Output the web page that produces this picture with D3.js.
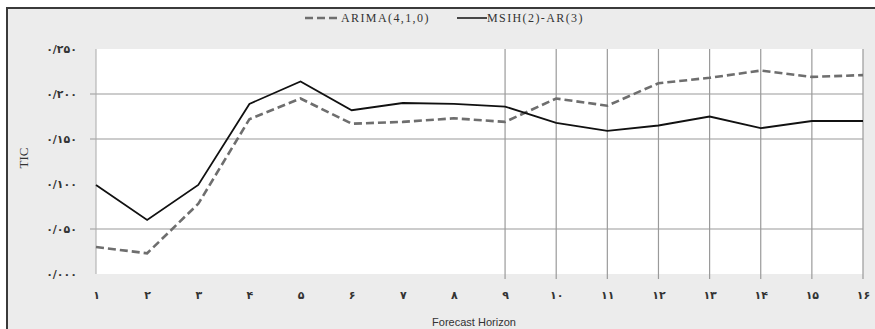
<!DOCTYPE html>
<html>
<head>
<meta charset="utf-8">
<script src="https://cdn.jsdelivr.net/npm/d3@7"></script>
<style>
body { margin: 0; background: #fff; }
svg { display: block; }
</style>
</head>
<body>
<svg class="chart"></svg>
<script>
var horizons = d3.range(1, 17);
var arima = [0.030, 0.023, 0.078, 0.172, 0.195, 0.167, 0.169, 0.173, 0.169, 0.195, 0.187, 0.212, 0.218, 0.226, 0.219, 0.221];
var msih = [0.099, 0.060, 0.099, 0.189, 0.214, 0.182, 0.190, 0.189, 0.186, 0.168, 0.159, 0.165, 0.175, 0.162, 0.170, 0.170];
var yTicks = [0, 0.05, 0.1, 0.15, 0.2, 0.25];
var yGrid = [0.05, 0.15, 0.2];
var xGrid = [9, 10, 11, 12, 13, 14, 15, 16];
var seriesNames = ["ARIMA(4,1,0)", "MSIH(2)-AR(3)"];

var margin = {top: 49, right: 12, bottom: 55, left: 96};
var W = 875, H = 329;
var width = W - margin.left - margin.right;
var height = H - margin.top - margin.bottom;

// persian digits for tick labels
function fa(s) {
	return s.replace(/[0-9]/g, d => "۰۱۲۳۴۵۶۷۸۹"[+d]);
}

var x = d3.scaleLinear().domain([1, 16]).range([0, width]);
var y = d3.scaleLinear().domain([0, 0.25]).range([height, 0]);

var svg = d3.select(".chart").attr("width", W).attr("height", H);

svg.append("rect")
	.attr("x", 7).attr("y", 8)
	.attr("width", W).attr("height", H)
	.attr("fill", "#ececec")
	.attr("stroke", "#3a3a3a")
	.attr("stroke-width", 2);

var chart = svg.append("g")
	.attr("transform", "translate(" + margin.left + "," + margin.top + ")");

chart.append("rect")
	.attr("width", width).attr("height", height)
	.attr("fill", "#fff");

chart.selectAll(".hgrid")
	.data(yGrid)
	.enter().append("line")
	.attr("x1", -6).attr("x2", width)
	.attr("y1", d => y(d)).attr("y2", d => y(d))
	.attr("stroke", "#9a9a9a").attr("stroke-width", 1.2);

chart.selectAll(".vgrid")
	.data(xGrid)
	.enter().append("line")
	.attr("x1", d => x(d)).attr("x2", d => x(d))
	.attr("y1", 0).attr("y2", height + 5)
	.attr("stroke", "#9a9a9a").attr("stroke-width", 1.2);

chart.append("line")
	.attr("x1", 0).attr("x2", 0)
	.attr("y1", 0).attr("y2", height)
	.attr("stroke", "#aaa");

var yAxis = d3.axisLeft(y)
	.tickValues(yTicks)
	.tickSize(0)
	.tickPadding(19)
	.tickFormat(d => fa(d3.format(".3f")(d).replace(".", "/")));

chart.append("g")
	.call(yAxis)
	.call(g => g.select(".domain").remove())
	.selectAll("text")
	.attr("font-family", "DejaVu Sans")
	.attr("font-size", 11)
	.attr("font-weight", "bold")
	.attr("letter-spacing", 0.8)
	.attr("fill", "#333");

var xAxis = d3.axisBottom(x)
	.tickValues(horizons)
	.tickSize(0)
	.tickPadding(17)
	.tickFormat(d => fa(String(d)));

chart.append("g")
	.attr("transform", "translate(0," + height + ")")
	.call(xAxis)
	.call(g => g.select(".domain").remove())
	.selectAll("text")
	.attr("font-family", "DejaVu Sans")
	.attr("font-size", 11)
	.attr("font-weight", "bold")
	.attr("letter-spacing", 0.8)
	.attr("fill", "#333");

var line = d3.line()
	.x((d, i) => x(horizons[i]))
	.y(d => y(d));

chart.append("path")
	.datum(arima)
	.attr("d", line)
	.attr("fill", "none")
	.attr("stroke", "#6e6e6e")
	.attr("stroke-width", 2.6)
	.attr("stroke-dasharray", "8,4");

chart.append("path")
	.datum(msih)
	.attr("d", line)
	.attr("fill", "none")
	.attr("stroke", "#111")
	.attr("stroke-width", 1.8);

// axis titles
svg.append("text")
	.attr("transform", "translate(28,158) rotate(-90)")
	.attr("text-anchor", "middle")
	.attr("font-family", "Liberation Serif")
	.attr("font-size", 13)
	.attr("fill", "#333")
	.text("TIC");

svg.append("text")
	.attr("x", 474).attr("y", 326)
	.attr("text-anchor", "middle")
	.attr("font-family", "Liberation Sans")
	.attr("font-size", 11)
	.attr("fill", "#333")
	.text("Forecast Horizon");

// legend
var legend = svg.append("g").attr("transform", "translate(305,18)");

legend.append("line")
	.attr("x1", 0).attr("x2", 34)
	.attr("stroke", "#6e6e6e").attr("stroke-width", 2.6)
	.attr("stroke-dasharray", "8,4");
legend.append("text")
	.attr("x", 36).attr("y", 4)
	.attr("font-family", "Liberation Serif")
	.attr("font-size", 12)
	.attr("letter-spacing", 1.4)
	.attr("fill", "#333")
	.text(seriesNames[0]);

legend.append("line")
	.attr("x1", 152).attr("x2", 182)
	.attr("stroke", "#111").attr("stroke-width", 1.5);
legend.append("text")
	.attr("x", 182).attr("y", 4)
	.attr("font-family", "Liberation Serif")
	.attr("font-size", 12)
	.attr("letter-spacing", 1.4)
	.attr("fill", "#333")
	.text(seriesNames[1]);
</script>
</body>
</html>
